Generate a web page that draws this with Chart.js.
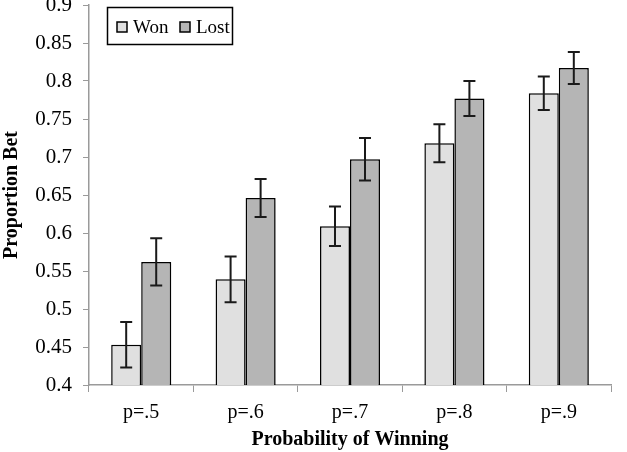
<!DOCTYPE html>
<html>
<head>
<meta charset="utf-8">
<script src="https://cdn.jsdelivr.net/npm/chart.js@4.4.1/dist/chart.umd.min.js"></script>
<style>
  body { margin: 0; background: #fff; }
  #wrap { width: 627px; height: 452px; position: relative; }
</style>
</head>
<body>
<div id="wrap"><canvas id="myBarChart"></canvas></div>
<script>
var categories = ['p=.5', 'p=.6', 'p=.7', 'p=.8', 'p=.9'];
var wonValues = [0.453, 0.539, 0.609, 0.718, 0.784];
var lostValues = [0.562, 0.646, 0.697, 0.777, 0.817];
var wonErr = [0.030, 0.030, 0.026, 0.025, 0.022];
var lostErr = [0.031, 0.025, 0.028, 0.023, 0.021];
var seriesNames = ['Won', 'Lost'];

var serif = '"Liberation Serif", "Times New Roman", serif';

// bar drop shadow
var shadowPlugin = {
  id: 'shadow',
  beforeDatasetDraw: function(chart) {
    var c = chart.ctx;
    c.save();
    c.shadowColor = 'rgba(0,0,0,0.25)';
    c.shadowBlur = 3;
    c.shadowOffsetX = 2;
    c.shadowOffsetY = 1;
  },
  afterDatasetDraw: function(chart) {
    chart.ctx.restore();
  }
};

// error bars from the err arrays
var errorBars = {
  id: 'errorBars',
  afterDatasetsDraw: function(chart) {
    var c = chart.ctx;
    var y = chart.scales.y;
    var errs = [wonErr, lostErr];
    c.save();
    c.strokeStyle = '#1a1a1a';
    c.lineWidth = 2;
    chart.data.datasets.forEach(function(ds, i) {
      var meta = chart.getDatasetMeta(i);
      meta.data.forEach(function(bar, j) {
        var v = ds.data[j], e = errs[i][j];
        var top = y.getPixelForValue(v + e);
        var bot = y.getPixelForValue(v - e);
        var x = bar.x;
        c.beginPath();
        c.moveTo(x, top); c.lineTo(x, bot);
        c.moveTo(x - 6, top); c.lineTo(x + 6, top);
        c.moveTo(x - 6, bot); c.lineTo(x + 6, bot);
        c.stroke();
      });
    });
    c.restore();
  }
};

// boxed legend inside the plot, top left
var boxLegend = {
  id: 'boxLegend',
  afterDraw: function(chart) {
    var c = chart.ctx;
    var a = chart.chartArea;
    var x0 = a.left + 18, y0 = a.top + 2;
    c.save();
    c.strokeStyle = '#000';
    c.lineWidth = 1.5;
    c.strokeRect(x0 + 0.5, y0 + 0.5, 125, 37);
    c.font = '19px ' + serif;
    c.textBaseline = 'middle';
    c.fillStyle = '#000';
    var cy = y0 + 20;
    var xs = [x0 + 10, x0 + 73];
    chart.data.datasets.forEach(function(ds, i) {
      c.fillStyle = ds.backgroundColor;
      c.fillRect(xs[i], cy - 5, 10, 10);
      c.lineWidth = 1.5;
      c.strokeRect(xs[i], cy - 5, 10, 10);
      c.fillStyle = '#000';
      c.fillText(ds.label, xs[i] + 16, cy + 1);
    });
    c.restore();
  }
};

document.addEventListener('DOMContentLoaded', function() {
  var ctx = document.getElementById('myBarChart').getContext('2d');
  var myBarChart = new Chart(ctx, {
    type: 'bar',
    data: {
      labels: categories,
      datasets: [
        { label: seriesNames[0], data: wonValues, backgroundColor: '#e0e0e0', borderColor: '#000', borderWidth: 1.5 },
        { label: seriesNames[1], data: lostValues, backgroundColor: '#b5b5b5', borderColor: '#000', borderWidth: 1.5 }
      ]
    },
    options: {
      responsive: true,
      maintainAspectRatio: false,
      animation: false,
      categoryPercentage: 0.575,
      barPercentage: 1.0,
      layout: { padding: { left: 0, right: 16, top: 5, bottom: 0 } },
      plugins: { legend: { display: false }, tooltip: { enabled: false } },
      scales: {
        x: {
          grid: { drawOnChartArea: false, color: '#9a9a9a', tickLength: 7, offset: true },
          border: { color: '#9a9a9a', width: 1.5 },
          ticks: { color: '#000', font: { family: serif, size: 20 }, padding: 9 },
          title: { display: true, text: 'Probability of Winning', color: '#000',
                   font: { family: serif, size: 20, weight: 'bold' }, padding: { top: 0, bottom: 0 } },
          afterFit: function(s) { s.height = 67; s.paddingLeft = 0; s.paddingRight = 0; }
        },
        y: {
          min: 0.4,
          max: 0.9,
          grid: { drawOnChartArea: false, color: '#9a9a9a', tickLength: 6 },
          border: { color: '#9a9a9a', width: 1.5 },
          ticks: {
            stepSize: 0.05, color: '#000', padding: 11,
            font: { family: serif, size: 21 },
            callback: function(v) { return String(parseFloat(v.toFixed(2))); }
          },
          title: { display: true, text: 'Proportion Bet', color: '#000',
                   font: { family: serif, size: 20, weight: 'bold' }, padding: { top: 0, bottom: 0 } },
          afterFit: function(s) { s.width = 89; s.paddingTop = 0; s.paddingBottom = 0; }
        }
      }
    },
    plugins: [shadowPlugin, errorBars, boxLegend]
  });
});
</script>
</body>
</html>
